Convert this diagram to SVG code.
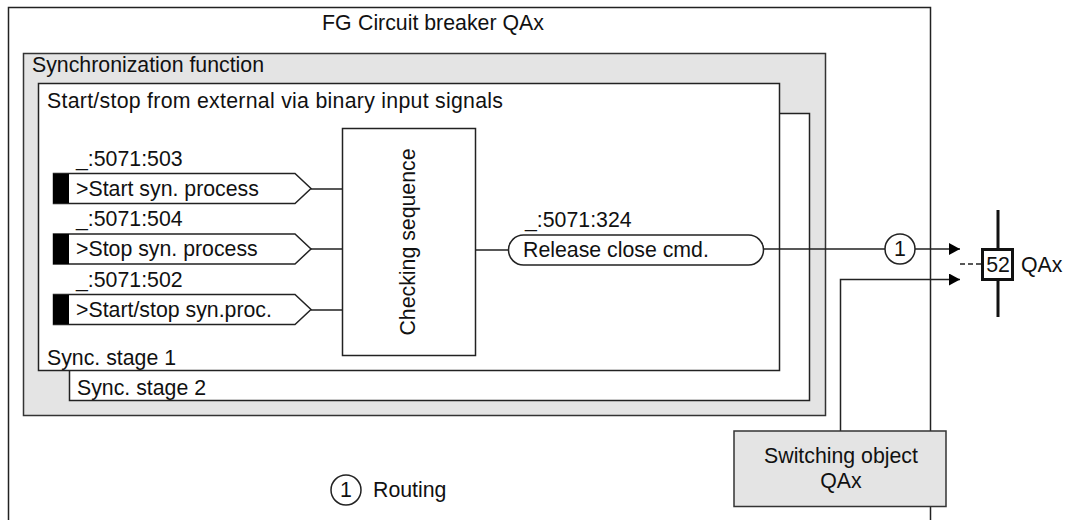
<svg xmlns="http://www.w3.org/2000/svg" width="1066" height="520" viewBox="0 0 1066 520">
<style>
text{font-family:"Liberation Sans",Arial,sans-serif;font-size:21.300px;fill:#111}
.b{fill:#fff;stroke:#222;stroke-width:1.5}
.g{fill:#e4e4e4;stroke:#333;stroke-width:1.5}
.l{fill:none;stroke:#222;stroke-width:1.5}
.m{text-anchor:middle}
</style>
<defs><marker id="a" markerUnits="userSpaceOnUse" markerWidth="11" markerHeight="12" refX="11" refY="6" orient="auto"><path d="M0 0L11 6L0 12Z" fill="#000"/></marker></defs>
<rect width="1066" height="520" fill="#fff"/>
<g id="fg"><rect class="l" x="8.500" y="7.500" width="922" height="530"/><text y="30"><tspan x="322">FG</tspan><tspan x="358">Circuit breaker QAx</tspan></text></g>
<g id="sync"><rect class="g" x="23.500" y="53.500" width="802" height="362"/><text x="32" y="72">Synchronization function</text></g>
<g id="stage2"><rect class="b" x="69.500" y="113.500" width="740" height="287"/><text x="77" y="395">Sync. stage 2</text></g>
<g id="stage1"><rect class="b" x="38.500" y="83.500" width="741" height="287"/><text x="47" y="108" textLength="456">Start/stop from external via binary input signals</text><text x="47" y="365">Sync. stage 1</text></g>
<g id="connectors">
<path class="l" d="M311 189H342M311 249H342M311 310H342M475 250H508"/>
<path class="l" d="M764 249H885M915 249H960" marker-end="url(#a)"/>
<path class="l" d="M840.500 431V279.500H960" marker-end="url(#a)"/>
<path class="l" d="M960 264H982" stroke-dasharray="5 3"/>
</g>
<g id="in1"><text x="76" y="166">_:5071:503</text><path class="b" d="M53.500 173.500H295L311 188.500L295 203.500H53.500Z"/><rect x="53" y="174" width="16" height="29" fill="#000"/><text x="76" y="196">&gt;Start syn. process</text></g>
<g id="in2"><text x="76" y="226">_:5071:504</text><path class="b" d="M53.500 234H295L311 249L295 264H53.500Z"/><rect x="53" y="234" width="16" height="30" fill="#000"/><text x="76" y="256">&gt;Stop syn. process</text></g>
<g id="in3"><text x="76" y="287">_:5071:502</text><path class="b" d="M53.500 294.500H295L311 309.500L295 324.500H53.500Z"/><rect x="53" y="295" width="16" height="29" fill="#000"/><text x="76" y="317">&gt;Start/stop syn.proc.</text></g>
<g id="check"><rect class="b" x="342.500" y="128.500" width="133" height="227"/><text class="m" transform="translate(415 242) rotate(-90)">Checking sequence</text></g>
<g id="release"><text x="525" y="227">_:5071:324</text><rect class="b" x="508.500" y="235" width="255" height="30" rx="15"/><text x="523" y="257">Release close cmd.</text></g>
<g id="route"><circle class="b" cx="900" cy="249" r="15"/><text x="900" y="256" class="m">1</text></g>
<g id="breaker"><path d="M998 210V317" stroke="#111" stroke-width="3" fill="none"/><rect x="982.500" y="249.500" width="30" height="30" fill="#fff" stroke="#111" stroke-width="3"/><text x="998" y="272" class="m">52</text><text x="1021" y="272">QAx</text></g>
<g id="switching"><rect class="g" x="734" y="431" width="212" height="75.500"/><text x="841" y="463" class="m">Switching object</text><text x="841" y="488" class="m">QAx</text></g>
<g id="legend"><circle class="l" cx="346" cy="490" r="15"/><text x="346" y="497" class="m">1</text><text x="373" y="497">Routing</text></g>
</svg>
